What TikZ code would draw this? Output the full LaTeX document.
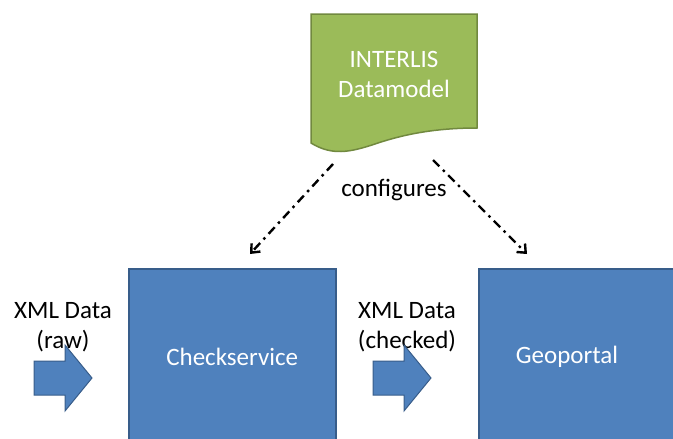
\documentclass[tikz,border=0pt]{standalone}
\usepackage{fontspec}
\setmainfont{Carlito}
\usetikzlibrary{arrows.meta, positioning}

\definecolor{boxblue}{HTML}{4F81BD}
\definecolor{boxline}{HTML}{385D8A}
\definecolor{docgreen}{HTML}{9BBB59}
\definecolor{docline}{HTML}{71893F}

\begin{document}
\begin{tikzpicture} [x=1pt, y=-1pt, font=\fontsize{25}{30}\selectfont,
        service/.style = {draw=boxline, line width=1.5pt, fill=boxblue, text=white,
            minimum width=207pt, minimum height=190pt, anchor=north west},
        flow/.style = {draw=boxline, line width=1pt, fill=boxblue},
        configure/.style = {-{Straight Barb[length=7pt, width=12pt]}, line width=2.4pt,
            dash pattern=on 9pt off 5pt on 2.5pt off 5pt}]
        \useasboundingbox (0,0) rectangle (673,439);
        \clip (0,0) rectangle (673,439);

        % datamodel document
        \draw [docline, line width=1.5pt, fill=docgreen]
            (311,14) -- (477,14) -- (477,128)
            .. controls (430,128) and (398,136) .. (372,145)
            .. controls (350,152) and (332,156) .. (311,143) -- cycle;
        \node (model) [text=white, align=center] at (394,74) {INTERLIS\\Datamodel};

        \node (check) [service] at (128,268) {};
        \node (geo) [service] at (478,268) {};
        \node [text=white] at (check.center |- 0,357) {Checkservice};
        \node [text=white] at (567,357) {Geoportal};

        \node (raw) [align=center] at (63,327) {XML Data\\(raw)};
        \node (checked) [align=center] at (407,327) {XML Data\\(checked)};

        % block arrows
        \coordinate (in) at (34,378);
        \coordinate (out) at (373,378);
        \foreach \a in {in, out}
            \draw [flow] (\a) ++(0,-17) -- ++(31,0) -- ++(0,-16) -- ++(27,33)
                -- ++(-27,33) -- ++(0,-16) -- ++(-31,0) -- cycle;

        \coordinate (s1) at (333,164);
        \coordinate (s2) at (433,160);
        \node (cfg) at (394,190) {configures};

        \draw [configure] (s1) -- (250,254);
        \draw [configure] (s2) -- (527,254);
    \end{tikzpicture}
\end{document}
